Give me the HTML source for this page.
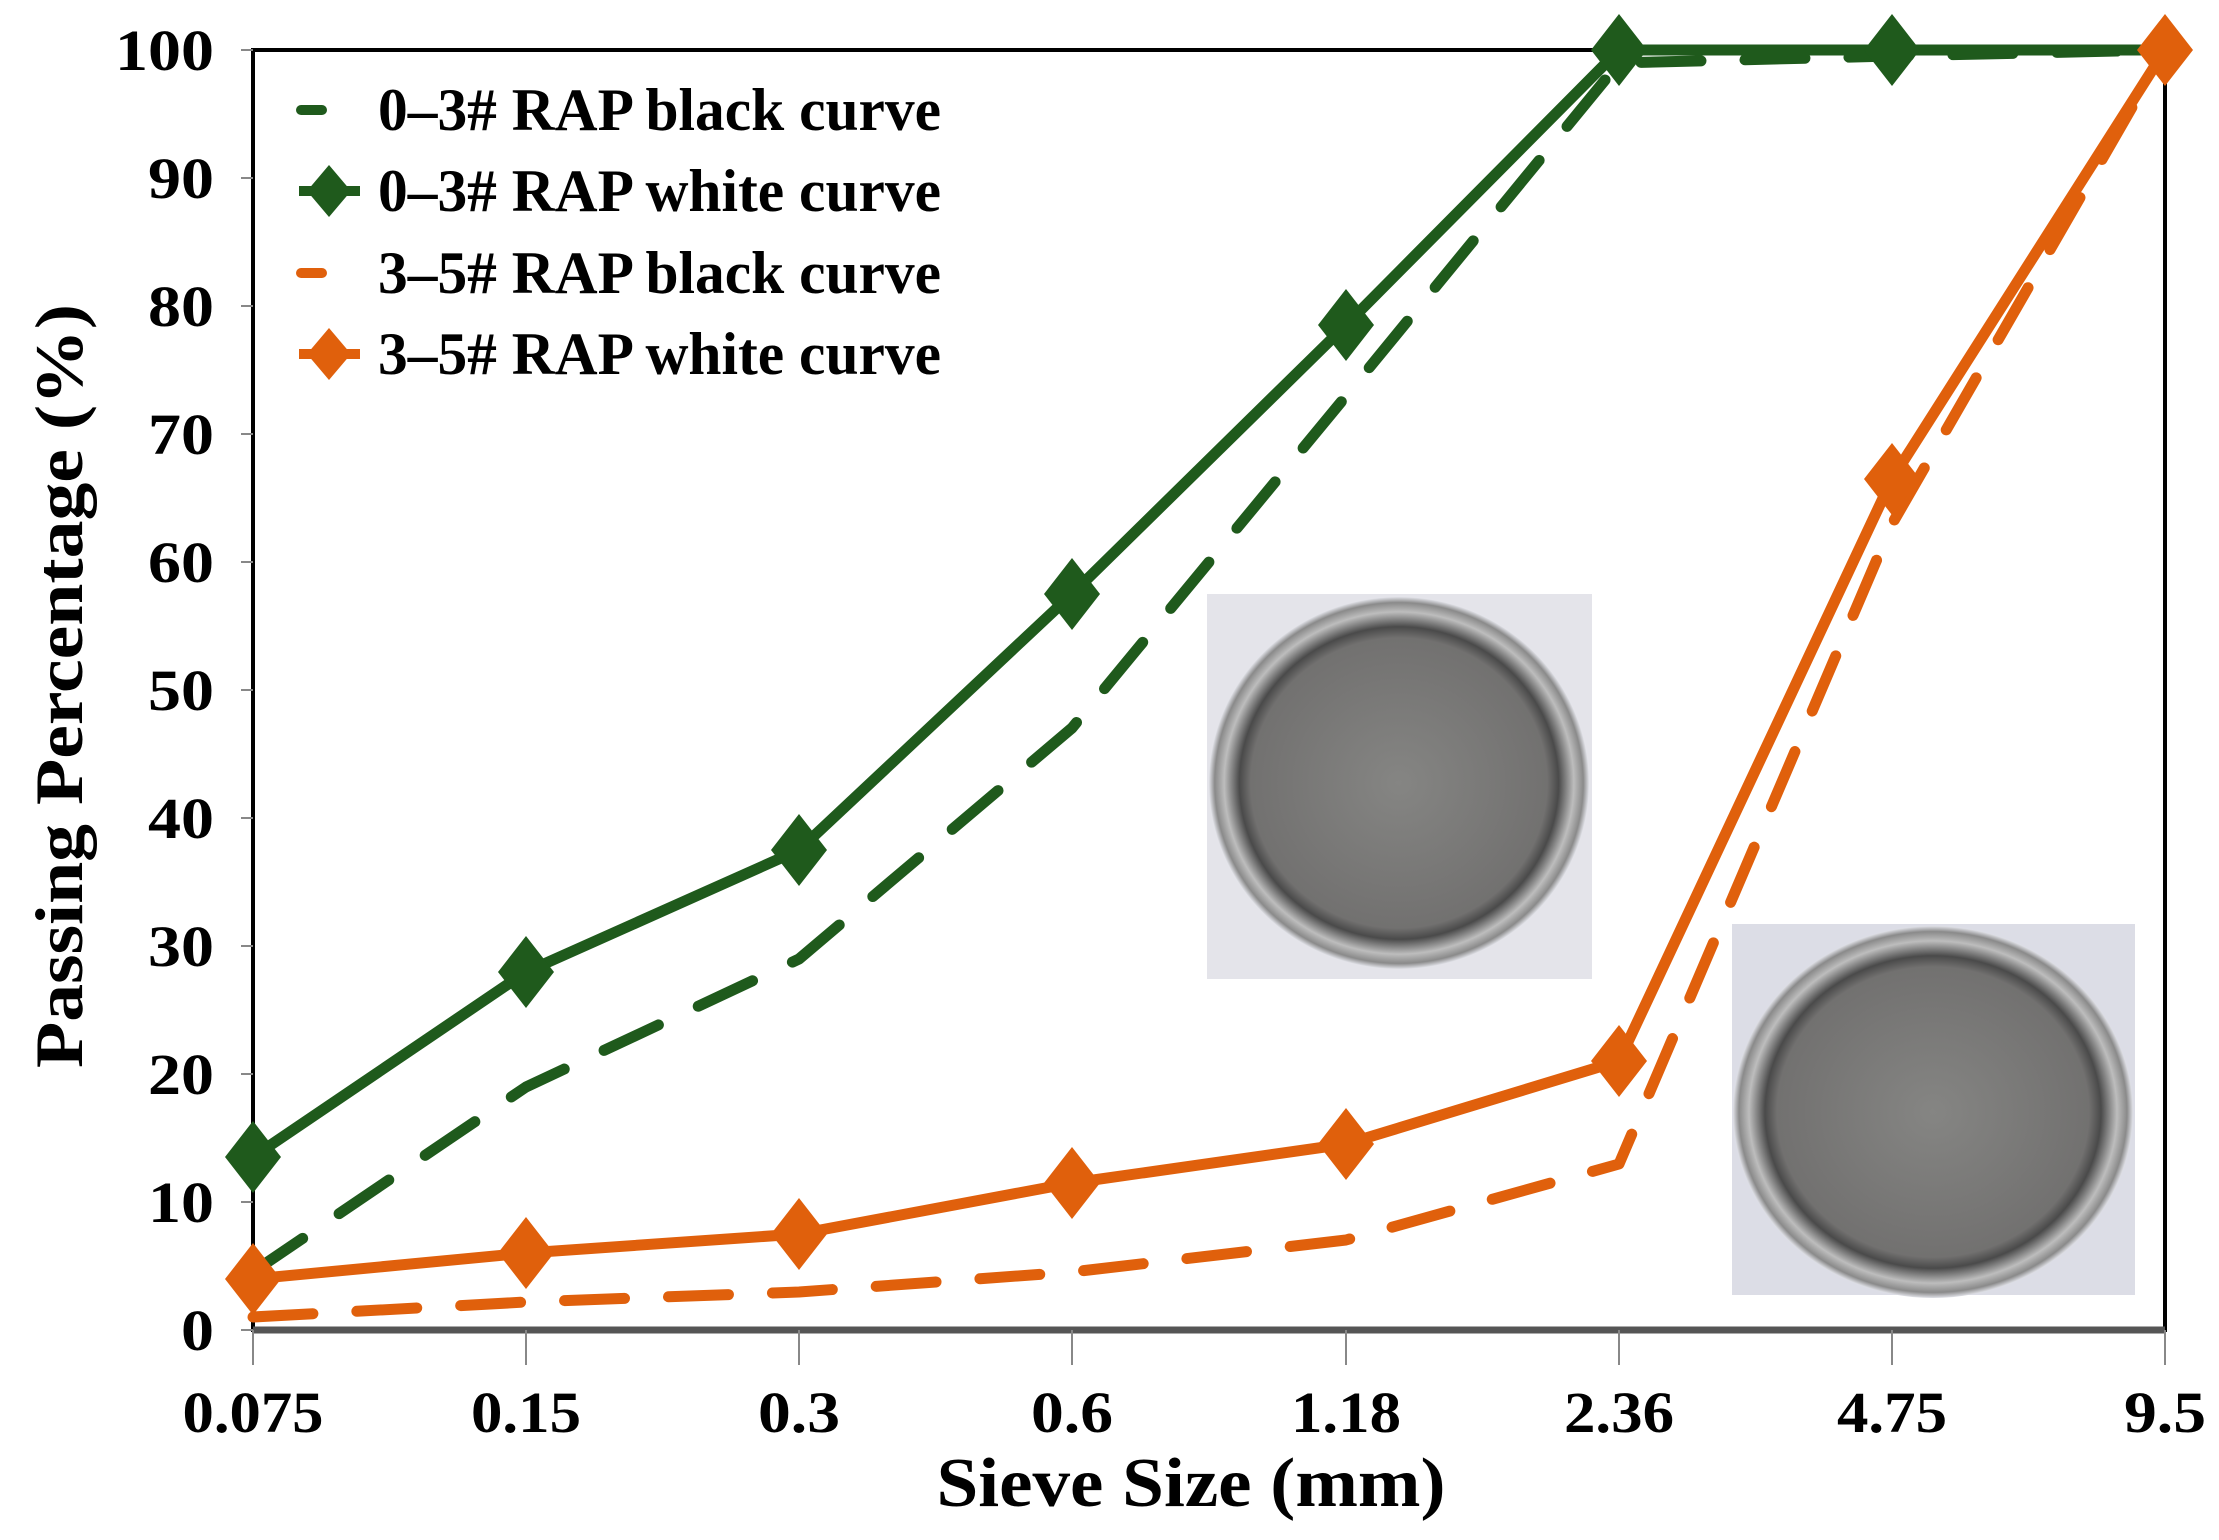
<!DOCTYPE html>
<html><head><meta charset="utf-8"><style>
html,body{margin:0;padding:0;background:#fff;}
svg{display:block;}
text{font-family:"Liberation Serif",serif;font-weight:bold;fill:#000;}
</style></head><body>
<svg width="2219" height="1540" viewBox="0 0 2219 1540" xmlns="http://www.w3.org/2000/svg">
<defs>
<radialGradient id="g1" cx="50%" cy="50%" r="50%">
<stop offset="0" stop-color="#858583"/><stop offset="0.78" stop-color="#727170"/><stop offset="0.84" stop-color="#4a4a4a"/><stop offset="0.92" stop-color="#bdbdbd"/><stop offset="0.97" stop-color="#8a8a8a"/><stop offset="1" stop-color="#dfe0e6"/>
</radialGradient>
</defs>
<rect x="1207" y="594" width="385" height="385" fill="#e4e4ea"/>
<ellipse cx="1399" cy="783" rx="190" ry="186" fill="url(#g1)"/>
<rect x="1732" y="924" width="403" height="371" fill="#dcdde6"/>
<ellipse cx="1933" cy="1112" rx="200" ry="186" fill="url(#g1)"/>
<rect x="253" y="50" width="1912" height="1280" fill="none" stroke="#000" stroke-width="4"/>
<line x1="253" y1="1330" x2="2165" y2="1330" stroke="#555" stroke-width="7"/>
<g stroke="#888" stroke-width="2">
<line x1="241" y1="50" x2="253" y2="50"/><line x1="241" y1="178" x2="253" y2="178"/><line x1="241" y1="306" x2="253" y2="306"/><line x1="241" y1="434" x2="253" y2="434"/><line x1="241" y1="562" x2="253" y2="562"/><line x1="241" y1="690" x2="253" y2="690"/><line x1="241" y1="818" x2="253" y2="818"/><line x1="241" y1="946" x2="253" y2="946"/><line x1="241" y1="1074" x2="253" y2="1074"/><line x1="241" y1="1202" x2="253" y2="1202"/><line x1="241" y1="1330" x2="253" y2="1330"/>
<line x1="253" y1="1330" x2="253" y2="1365"/><line x1="526" y1="1330" x2="526" y2="1365"/><line x1="799" y1="1330" x2="799" y2="1365"/><line x1="1072" y1="1330" x2="1072" y2="1365"/><line x1="1346" y1="1330" x2="1346" y2="1365"/><line x1="1619" y1="1330" x2="1619" y2="1365"/><line x1="1892" y1="1330" x2="1892" y2="1365"/><line x1="2165" y1="1330" x2="2165" y2="1365"/>
</g>
<g font-size="58" text-anchor="end" lengthAdjust="spacingAndGlyphs">
<text x="214" y="70" textLength="99" lengthAdjust="spacingAndGlyphs">100</text><text x="214" y="198" textLength="66" lengthAdjust="spacingAndGlyphs">90</text><text x="214" y="326" textLength="66" lengthAdjust="spacingAndGlyphs">80</text><text x="214" y="454" textLength="66" lengthAdjust="spacingAndGlyphs">70</text><text x="214" y="582" textLength="66" lengthAdjust="spacingAndGlyphs">60</text><text x="214" y="710" textLength="66" lengthAdjust="spacingAndGlyphs">50</text><text x="214" y="838" textLength="66" lengthAdjust="spacingAndGlyphs">40</text><text x="214" y="966" textLength="66" lengthAdjust="spacingAndGlyphs">30</text><text x="214" y="1094" textLength="66" lengthAdjust="spacingAndGlyphs">20</text><text x="214" y="1222" textLength="66" lengthAdjust="spacingAndGlyphs">10</text><text x="214" y="1350" textLength="33" lengthAdjust="spacingAndGlyphs">0</text>
</g>
<g font-size="58" text-anchor="middle">
<text x="253" y="1432" textLength="141" lengthAdjust="spacingAndGlyphs">0.075</text><text x="526" y="1432" textLength="110" lengthAdjust="spacingAndGlyphs">0.15</text><text x="799" y="1432" textLength="82" lengthAdjust="spacingAndGlyphs">0.3</text><text x="1072" y="1432" textLength="82" lengthAdjust="spacingAndGlyphs">0.6</text><text x="1346" y="1432" textLength="110" lengthAdjust="spacingAndGlyphs">1.18</text><text x="1619" y="1432" textLength="110" lengthAdjust="spacingAndGlyphs">2.36</text><text x="1892" y="1432" textLength="110" lengthAdjust="spacingAndGlyphs">4.75</text><text x="2165" y="1432" textLength="82" lengthAdjust="spacingAndGlyphs">9.5</text>
</g>
<text x="1191" y="1506" font-size="70" text-anchor="middle" textLength="509" lengthAdjust="spacingAndGlyphs">Sieve Size (mm)</text>
<text transform="translate(82,686) rotate(-90)" font-size="68" text-anchor="middle" textLength="764" lengthAdjust="spacingAndGlyphs">Passing Percentage (%)</text>
<g fill="none" stroke-width="11" stroke-linejoin="round">
<polyline stroke="#1f5a1c" stroke-dasharray="60 44" stroke-linecap="round" points="253,1272 526,1087 799,959 1072,728 1346,396 1619,63 1892,56 2165,50"/>
<polyline stroke="#1f5a1c" points="253,1157 526,972 799,850 1072,594 1346,325 1619,50 1892,50 2165,50"/>
<polyline stroke="#e0600c" stroke-dasharray="60 44" stroke-linecap="round" points="253,1317 526,1302 799,1292 1072,1272 1346,1240 1619,1164 1892,524 2165,50"/>
<polyline stroke="#e0600c" points="253,1279 526,1253 799,1234 1072,1183 1346,1144 1619,1061 1892,479 2165,50"/>
</g>
<g fill="#1f5a1c">
<path d="M253,1121 l28,36 -28,36 -28,-36z"/><path d="M526,936 l28,36 -28,36 -28,-36z"/><path d="M799,814 l28,36 -28,36 -28,-36z"/><path d="M1072,558 l28,36 -28,36 -28,-36z"/><path d="M1346,289 l28,36 -28,36 -28,-36z"/><path d="M1619,14 l28,36 -28,36 -28,-36z"/><path d="M1892,14 l28,36 -28,36 -28,-36z"/>
</g>
<g fill="#e0600c">
<path d="M253,1243 l28,36 -28,36 -28,-36z"/><path d="M526,1217 l28,36 -28,36 -28,-36z"/><path d="M799,1198 l28,36 -28,36 -28,-36z"/><path d="M1072,1147 l28,36 -28,36 -28,-36z"/><path d="M1346,1108 l28,36 -28,36 -28,-36z"/><path d="M1619,1025 l28,36 -28,36 -28,-36z"/><path d="M1892,443 l28,36 -28,36 -28,-36z"/><path d="M2165,14 l28,36 -28,36 -28,-36z"/>
</g>
<line x1="301" y1="110" x2="322" y2="110" stroke="#1f5a1c" stroke-width="10" stroke-linecap="round"/>
<line x1="299" y1="191" x2="360" y2="191" stroke="#1f5a1c" stroke-width="10"/>
<path d="M329,165 l22,26 -22,26 -22,-26z" fill="#1f5a1c"/>
<line x1="301" y1="273" x2="322" y2="273" stroke="#e0600c" stroke-width="10" stroke-linecap="round"/>
<line x1="299" y1="354" x2="360" y2="354" stroke="#e0600c" stroke-width="10"/>
<path d="M329,328 l22,26 -22,26 -22,-26z" fill="#e0600c"/>
<g font-size="60">
<text x="378" y="130" textLength="563" lengthAdjust="spacingAndGlyphs">0–3# RAP black curve</text>
<text x="378" y="211" textLength="563" lengthAdjust="spacingAndGlyphs">0–3# RAP white curve</text>
<text x="378" y="293" textLength="563" lengthAdjust="spacingAndGlyphs">3–5# RAP black curve</text>
<text x="378" y="374" textLength="563" lengthAdjust="spacingAndGlyphs">3–5# RAP white curve</text>
</g>
</svg>
</body></html>
